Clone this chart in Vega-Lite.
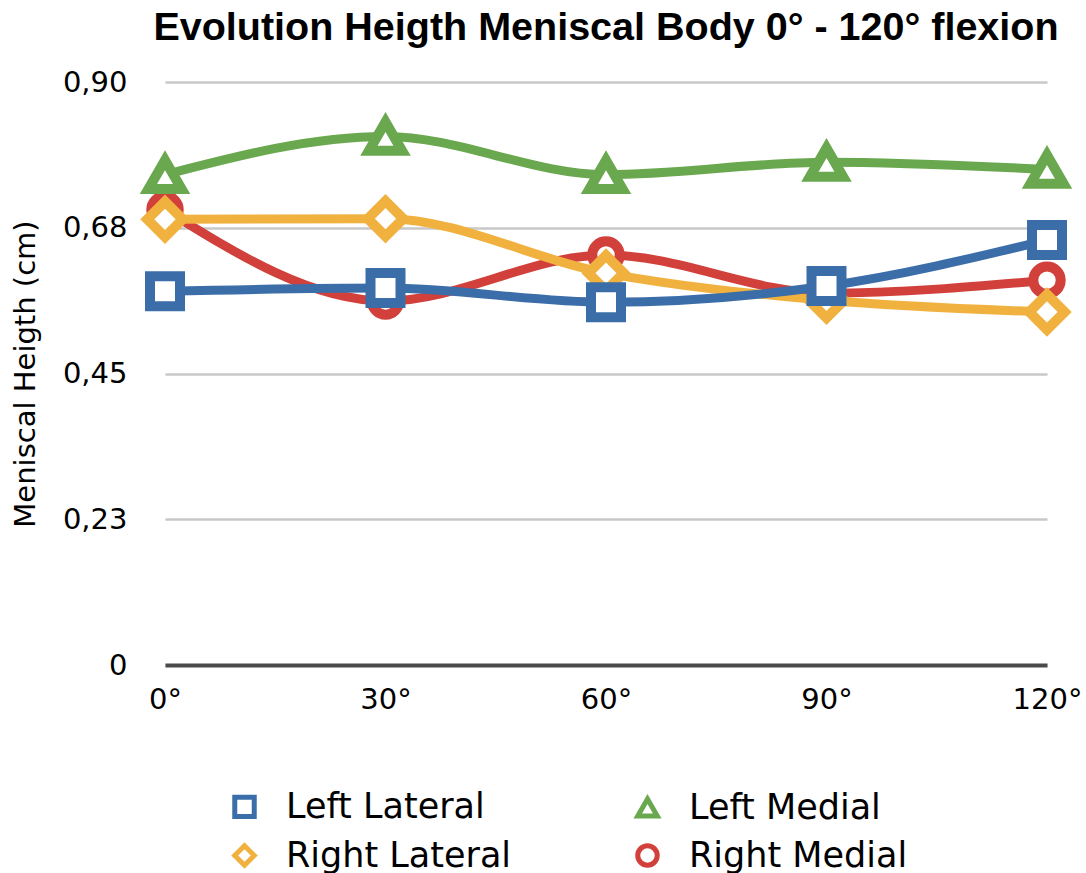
{
  "$schema": "https://vega.github.io/schema/vega-lite/v6.json",
  "autosize": {"type": "none"},
  "width": 882,
  "height": 583,
  "padding": {"left": 165, "top": 82, "right": 39, "bottom": 208},
  "background": "white",
  "title": {
    "text": "Evolution Heigth Meniscal Body 0° - 120° flexion",
    "font": "Liberation Sans",
    "fontSize": 39.5,
    "fontWeight": "bold",
    "color": "black",
    "anchor": "middle",
    "offset": 20
  },
  "data": {
    "values": [
      {"series": "Right Medial", "flexion": 0, "height": 0.703},
      {"series": "Right Medial", "flexion": 30, "height": 0.562},
      {"series": "Right Medial", "flexion": 60, "height": 0.633},
      {"series": "Right Medial", "flexion": 90, "height": 0.574},
      {"series": "Right Medial", "flexion": 120, "height": 0.594},
      {"series": "Right Lateral", "flexion": 0, "height": 0.688},
      {"series": "Right Lateral", "flexion": 30, "height": 0.689},
      {"series": "Right Lateral", "flexion": 60, "height": 0.605},
      {"series": "Right Lateral", "flexion": 90, "height": 0.563},
      {"series": "Right Lateral", "flexion": 120, "height": 0.545},
      {"series": "Left Lateral", "flexion": 0, "height": 0.577},
      {"series": "Left Lateral", "flexion": 30, "height": 0.582},
      {"series": "Left Lateral", "flexion": 60, "height": 0.56},
      {"series": "Left Lateral", "flexion": 90, "height": 0.585},
      {"series": "Left Lateral", "flexion": 120, "height": 0.656},
      {"series": "Left Medial", "flexion": 0, "height": 0.757},
      {"series": "Left Medial", "flexion": 30, "height": 0.816},
      {"series": "Left Medial", "flexion": 60, "height": 0.757},
      {"series": "Left Medial", "flexion": 90, "height": 0.776},
      {"series": "Left Medial", "flexion": 120, "height": 0.765}
    ]
  },
  "encoding": {
    "x": {
      "field": "flexion",
      "type": "quantitative",
      "scale": {"domain": [0, 120], "nice": false, "zero": false},
      "axis": {
        "title": null,
        "values": [0, 30, 60, 90, 120],
        "labelExpr": "datum.value + '°'",
        "grid": false,
        "ticks": false,
        "domain": true,
        "domainColor": "#4a4a4a",
        "domainWidth": 4,
        "labelFont": "DejaVu Sans",
        "labelFontSize": 29,
        "labelColor": "black",
        "labelPadding": 20,
        "labelFlush": false
      }
    },
    "y": {
      "field": "height",
      "type": "quantitative",
      "scale": {"domain": [0, 0.9], "nice": false},
      "axis": {
        "title": "Meniscal Heigth (cm)",
        "titleFont": "DejaVu Sans",
        "titleFontSize": 29,
        "titleFontWeight": "normal",
        "titleColor": "black",
        "titlePadding": 22,
        "values": [0, 0.225, 0.45, 0.675, 0.9],
        "labelExpr": "datum.value == 0 ? '0' : replace(format(datum.value, '.2f'), '.', ',')",
        "grid": true,
        "gridColor": "#c8c8c8",
        "gridWidth": 2.5,
        "ticks": false,
        "domain": false,
        "labelFont": "DejaVu Sans",
        "labelFontSize": 29,
        "labelColor": "black",
        "labelPadding": 38
      }
    },
    "color": {
      "field": "series",
      "type": "nominal",
      "scale": {
        "domain": ["Left Lateral", "Right Lateral", "Left Medial", "Right Medial"],
        "range": ["#3b6ea8", "#f1b13f", "#6aa84f", "#d1403a"]
      },
      "legend": {
        "title": null,
        "orient": "none",
        "legendX": 62,
        "legendY": 707,
        "columns": 2,
        "columnPadding": 115,
        "rowPadding": 8,
        "labelFont": "DejaVu Sans",
        "labelFontSize": 35,
        "labelColor": "black",
        "labelLimit": 500,
        "labelOffset": 24,
        "symbolSize": 380,
        "symbolStrokeWidth": 5,
        "symbolFillColor": "white",
        "encode": {
          "symbols": {
            "update": {
              "fill": {"value": "white"},
              "stroke": {"scale": "color", "field": "value"},
              "strokeWidth": {"value": 5}
            }
          }
        }
      }
    },
    "shape": {
      "field": "series",
      "type": "nominal",
      "scale": {
        "domain": ["Left Lateral", "Right Lateral", "Left Medial", "Right Medial"],
        "range": ["square", "diamond", "triangle-up", "circle"]
      }
    }
  },
  "layer": [
    {
      "mark": {"type": "line", "interpolate": "monotone", "strokeWidth": 9, "strokeCap": "round"},
      "encoding": {"shape": null}
    },
    {
      "transform": [{"filter": "datum.series == 'Right Medial'"}],
      "mark": {"type": "point", "filled": false, "fill": "white", "fillOpacity": 1, "opacity": 1, "strokeWidth": 10, "size": 750}
    },
    {
      "transform": [{"filter": "datum.series == 'Right Lateral'"}],
      "mark": {"type": "point", "filled": false, "fill": "white", "fillOpacity": 1, "opacity": 1, "strokeWidth": 10, "size": 1250}
    },
    {
      "transform": [{"filter": "datum.series == 'Left Lateral'"}],
      "mark": {"type": "point", "filled": false, "fill": "white", "fillOpacity": 1, "opacity": 1, "strokeWidth": 10, "size": 900}
    },
    {
      "transform": [{"filter": "datum.series == 'Left Medial'"}],
      "mark": {"type": "point", "filled": false, "fill": "white", "fillOpacity": 1, "opacity": 1, "strokeWidth": 10, "size": 1100}
    }
  ],
  "config": {"view": {"stroke": null}}
}
